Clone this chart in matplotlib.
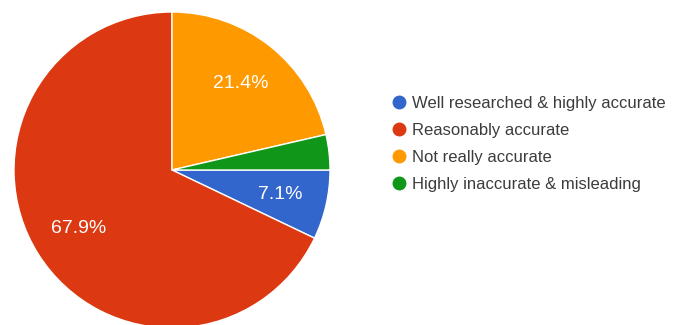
import matplotlib
matplotlib.use("Agg")
import matplotlib.pyplot as plt
from matplotlib.lines import Line2D

# survey answers and share of responses (%)
categories = ["Well researched & highly accurate", "Reasonably accurate",
              "Not really accurate", "Highly inaccurate & misleading"]
shares = [7.1, 67.9, 21.4, 3.6]
colors = ["#3366CC", "#DC3912", "#FF9900", "#109618"]

plt.rcParams['font.family'] = ['Liberation Sans', 'DejaVu Sans']

fig = plt.figure(figsize=(6.83, 3.25), dpi=100)
ax = fig.add_axes([0, 0, 1, 1])
ax.set_xlim(0, 683)
ax.set_ylim(0, 325)
ax.set_aspect('equal')
ax.axis('off')


def pct_label(p):
    # small slices stay unlabelled
    return "%.1f%%" % p if p >= 5 else ""


wedges, texts, autotexts = ax.pie(
    shares, colors=colors, startangle=0, counterclock=False,
    center=(172, 155), radius=158, autopct=pct_label, pctdistance=0.7,
    wedgeprops=dict(edgecolor='white', linewidth=1),
    textprops=dict(color='white', fontsize=14))
ax.set_xlim(0, 683)
ax.set_ylim(0, 325)

handles = [Line2D([], [], marker='o', linestyle='', markersize=9,
                  markerfacecolor=c, markeredgecolor=c) for c in colors]
leg = fig.legend(handles, categories, loc='upper left',
                 bbox_to_anchor=(376 / 683, 1 - 81 / 325), frameon=False,
                 fontsize=12, handletextpad=0.35, labelspacing=0.72,
                 handlelength=0.9)
for t in leg.get_texts():
    t.set_color('#3c3c3c')

fig.savefig("out.png", dpi=100)
